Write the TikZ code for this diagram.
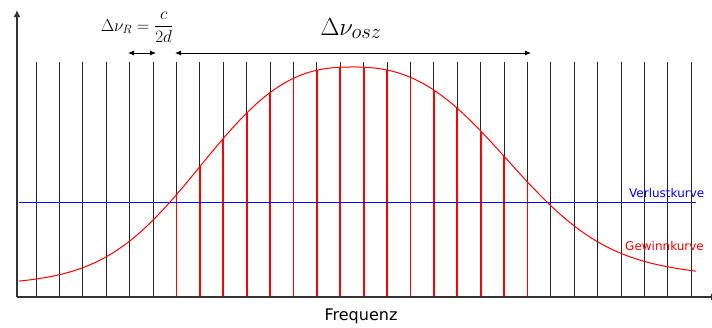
\documentclass[tikz,border=0pt]{standalone}
\usepackage{fontspec}
\setsansfont{DejaVu Sans}
\usetikzlibrary{arrows.meta}

\begin{document}
\begin{tikzpicture}[x=1pt,y=-1pt,>={Latex[length=6pt,width=5pt]},
 declare function={
  hl(\t)=230*(0.2/(1+(\t/230)^2)+0.8*exp(-(\t/181)^2.7));
  hr(\t)=230*(0.3/(1+(\t/260)^2)+0.7*exp(-(\t/185)^2.7));},
 mline/.style={line width=0.9pt,black!85},
 rline/.style={line width=1.8pt,red},
 ax/.style={line width=1.4pt,black!80,-{Latex[length=7pt,width=7pt]}},
 kurve/.style={font=\sffamily\fontsize{12}{14}\selectfont,anchor=base west,inner sep=0pt}]
\useasboundingbox (0,0) rectangle (712,327);
% Resonatormoden
\foreach \i in {0,...,28}
  \draw[mline] (36+23.4*\i,62) -- (36+23.4*\i,297);
% Moden oberhalb der Verluste
\begin{scope}
\clip plot[domain=19:352,samples=80] (\x,{297-hl(352.01-\x)})
  -- plot[domain=352:696,samples=80] (\x,{297-hr(\x-351.99)})
  -- (696,297) -- (19,297) -- cycle;
\foreach \i in {6,...,21}
  \draw[rline] (36+23.4*\i,62) -- (36+23.4*\i,297);
\end{scope}
% Verlustkurve
\coordinate (vl) at (19,202);
\coordinate (vr) at (696,202);
\draw[blue,line width=1pt] (vl) -- (vr);
% Gewinnkurve
\draw[red,line width=1pt] plot[domain=19:352,samples=80] (\x,{297-hl(352.01-\x)})
  -- plot[domain=352:696,samples=80] (\x,{297-hr(\x-351.99)});
% Achsen
\coordinate (O) at (17,297);
\coordinate (ytop) at (17,10);
\coordinate (xend) at (718,297);
\draw[ax] (O) -- (ytop);
\draw[ax] (O) -- (xend);
% Abstaende
\coordinate (rL) at (128,53);
\coordinate (rR) at (156,53);
\coordinate (oL) at (175,53);
\coordinate (oR) at (531,53);
\draw[<->,line width=0.9pt] (rL) -- (rR);
\draw[<->,line width=0.9pt] (oL) -- (oR);
\node (dR) [anchor=base,inner sep=0pt,font=\fontsize{17.28}{20}\selectfont] at (137,31) {$\Delta\nu_R=\displaystyle\frac{c}{2d}$};
\node (dosz) [anchor=base,inner sep=0pt,font=\fontsize{28}{30}\selectfont] at (351,35) {$\Delta\nu_{osz}$};
\node (verl) [kurve,text=blue] at (629,197) {Verlustkurve};
\node (gew) [kurve,text=red] at (625,250) {Gewinnkurve};
\node (freq) [anchor=base,inner sep=0pt,font=\sffamily\fontsize{16}{18}\selectfont] at (361,320) {Frequenz};
\end{tikzpicture}
\end{document}
